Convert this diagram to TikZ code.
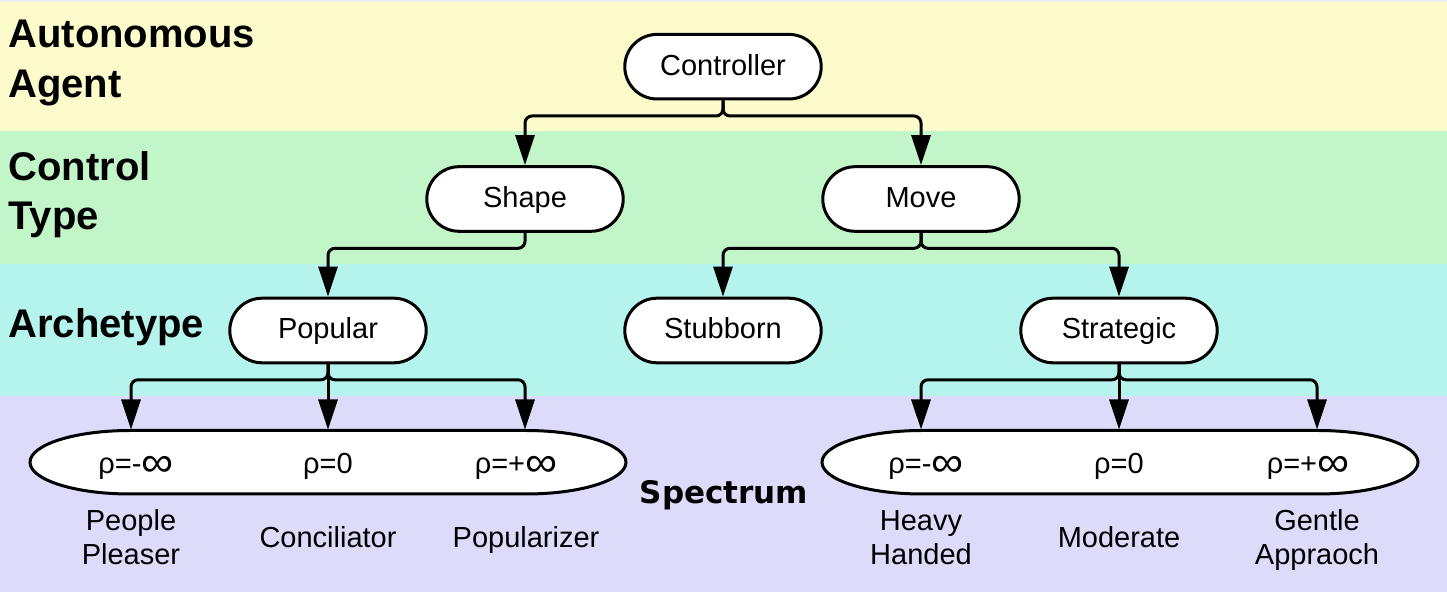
\documentclass[tikz,border=0pt]{standalone}
\usepackage{fontspec}
\setmainfont{Liberation Sans}
\newfontfamily\spfont{DejaVu Sans}
\usetikzlibrary{shapes.misc,arrows.meta}
\definecolor{bandA}{HTML}{FCFBCC}
\definecolor{bandB}{HTML}{C2F6C8}
\definecolor{bandC}{HTML}{B4F4EC}
\definecolor{bandD}{HTML}{DCDCFA}
\newcommand\infsym{\raisebox{-1.4pt}{\scalebox{1.55}[1.45]{∞}}}
\begin{document}
\begin{tikzpicture}[x=0.5pt,y=-0.5pt,
  box/.style={rounded rectangle, draw, line width=1.5pt, fill=white,
    minimum width=98.2pt, minimum height=32.3pt, inner sep=0pt,
    font=\fontsize{14.5pt}{17pt}\selectfont, text height=10.4pt, text depth=2pt},
  conn/.style={line width=1.5pt, rounded corners=3.5pt, -{Triangle[length=15pt,width=9.5pt]}},
  lbl/.style={font=\fontsize{14.5pt}{17pt}\selectfont, anchor=base, inner sep=0pt},
  head/.style={font=\bfseries\fontsize{20pt}{24pt}\selectfont, anchor=base west, inner sep=0pt},
  spec/.style={line width=1.5pt, fill=white}]
\useasboundingbox (0,0) rectangle (1447,592);
% bands
\fill[black!7] (0,0) rectangle (1447,2);
\fill[bandA] (0,2) rectangle (1447,131);
\fill[bandB] (0,131) rectangle (1447,264);
\fill[bandC] (0,264) rectangle (1447,396);
\fill[bandD] (0,396) rectangle (1447,592);
% row headings
\node[head] (hA1) at (8,48) {Autonomous};
\node[head] (hA2) at (8,97.7) {Agent};
\node[head] (hB1) at (8,181) {Control};
\node[head] (hB2) at (8,230) {Type};
\node[head] (hC) at (8,337.5) {Archetype};
\node[font=\spfont\bfseries\fontsize{15.5pt}{18pt}\selectfont, anchor=base, inner sep=0pt] (hD) at (724,503.3) {Spectrum};
% tree nodes
\node[box] (ctrl) at (723,66.7) {Controller};
\node[box] (shape) at (525,199) {Shape};
\node[box] (move) at (921,199) {Move};
\node[box] (pop) at (328,330.5) {Popular};
\node[box] (stub) at (723,330.5) {Stubborn};
\node[box] (strat) at (1119,330.5) {Strategic};
% spectrum shapes
\draw[spec] (130,430.5) -- (526,430.5) .. controls (581.2,430.5) and (626,444.7) .. (626,462.25)
  .. controls (626,479.8) and (581.2,494) .. (526,494) -- (130,494)
  .. controls (74.8,494) and (30,479.8) .. (30,462.25)
  .. controls (30,444.7) and (74.8,430.5) .. (130,430.5) -- cycle;
\draw[spec] (922,430.5) -- (1318,430.5) .. controls (1373.2,430.5) and (1418,444.7) .. (1418,462.25)
  .. controls (1418,479.8) and (1373.2,494) .. (1318,494) -- (922,494)
  .. controls (866.8,494) and (822,479.8) .. (822,462.25)
  .. controls (822,444.7) and (866.8,430.5) .. (922,430.5) -- cycle;
\coordinate (sL1) at (131,429.5);
\coordinate (sL2) at (328,429.5);
\coordinate (sL3) at (525,429.5);
\coordinate (sR1) at (921,429.5);
\coordinate (sR2) at (1119,429.5);
\coordinate (sR3) at (1317,429.5);
% spectrum values
\node[lbl] (vL1) at (136,474) {ρ=-\infsym};
\node[lbl] (vL2) at (328,474) {ρ=0};
\node[lbl] (vL3) at (516,474) {ρ=+\infsym};
\node[lbl] (vR1) at (926,474) {ρ=-\infsym};
\node[lbl] (vR2) at (1119,474) {ρ=0};
\node[lbl] (vR3) at (1308,474) {ρ=+\infsym};
% labels below
\node[lbl] (pp1) at (131,530.7) {People};
\node[lbl] (pp2) at (131,565) {Pleaser};
\node[lbl] (conc) at (328,548) {Conciliator};
\node[lbl] (popz) at (526,548) {Popularizer};
\node[lbl] (hh1) at (921,530.7) {Heavy};
\node[lbl] (hh2) at (921,565) {Handed};
\node[lbl] (mod) at (1119,548) {Moderate};
\node[lbl] (ga1) at (1317,530.7) {Gentle};
\node[lbl] (ga2) at (1317,565) {Appraoch};
% connectors
\draw[conn] (ctrl.south) -- ++(0,15.5) -| (shape.north);
\draw[conn] (ctrl.south) -- ++(0,15.5) -| (move.north);
\draw[conn] (shape.south) -- ++(0,15.5) -| (pop.north);
\draw[conn] (move.south) -- ++(0,15.5) -| (stub.north);
\draw[conn] (move.south) -- ++(0,15.5) -| (strat.north);
\draw[conn] (pop.south) -- ++(0,15.5) -| (sL1);
\draw[conn] (pop.south) -- (sL2);
\draw[conn] (pop.south) -- ++(0,15.5) -| (sL3);
\draw[conn] (strat.south) -- ++(0,15.5) -| (sR1);
\draw[conn] (strat.south) -- (sR2);
\draw[conn] (strat.south) -- ++(0,15.5) -| (sR3);
\end{tikzpicture}
\end{document}
